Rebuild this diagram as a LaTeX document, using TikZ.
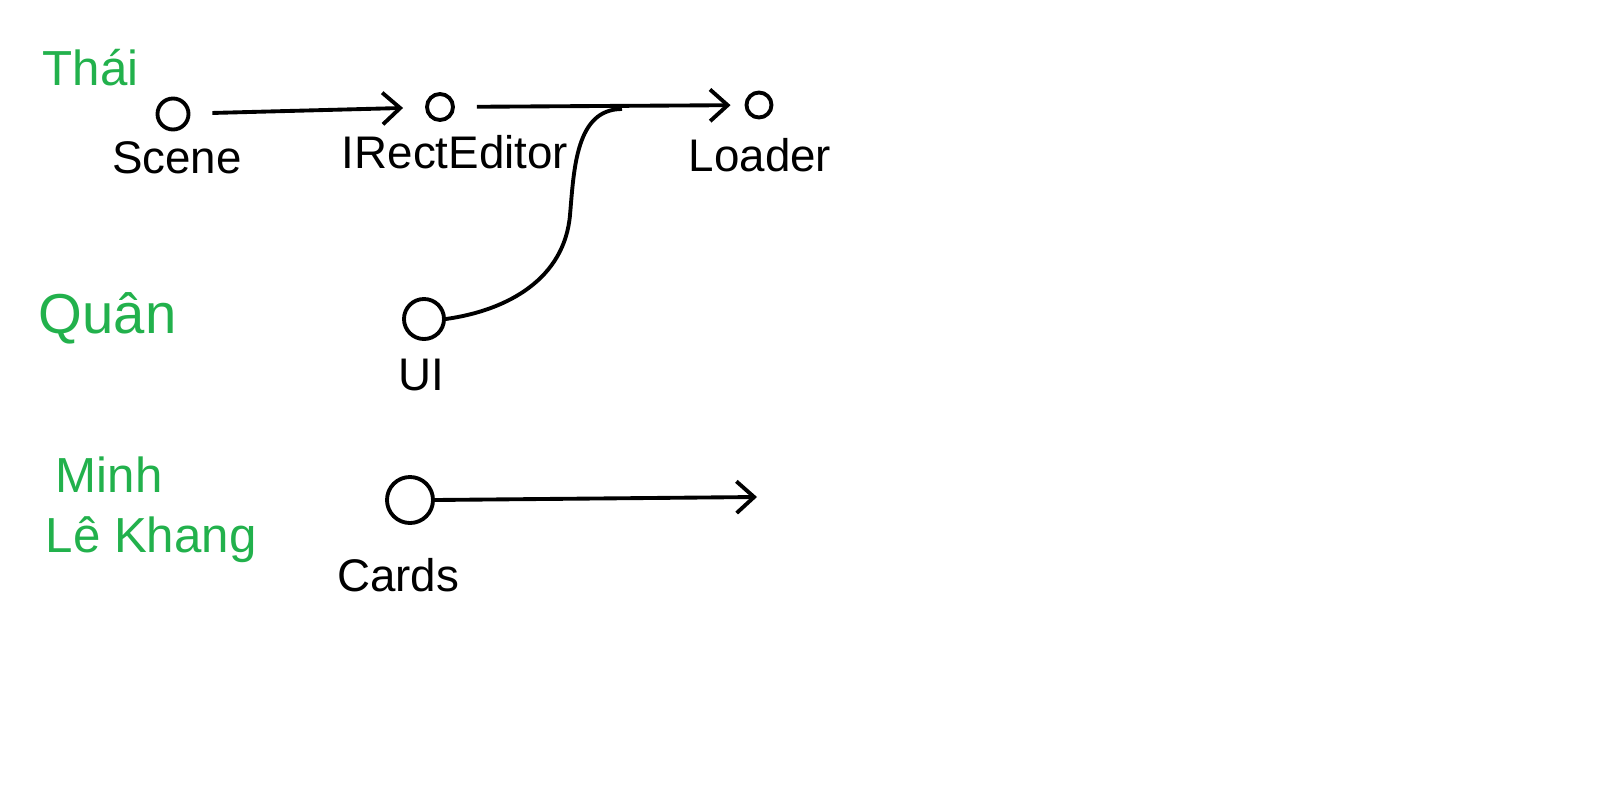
\documentclass[tikz,border=0pt]{standalone}
\usepackage{fontspec}
\setmainfont{Liberation Sans}
\usetikzlibrary{arrows.meta}
\definecolor{paintgreen}{RGB}{34,177,76}

\begin{document}
\begin{tikzpicture}[x=0.01cm,y=-0.01cm]
                \tikzstyle{every node}+=[inner sep=0pt]
                \tikzstyle{obj}=[draw=black, circle, line width=1.1pt]
                \tikzstyle{objlbl}=[font=\fontsize{13}{15}\selectfont, text=black]
                \tikzstyle{who}=[font=\fontsize{14}{16}\selectfont, text=paintgreen, anchor=west]
                \tikzstyle{link}=[draw=black, line width=1.1pt, -{Straight Barb[length=5pt,width=9pt]}]
                \useasboundingbox (0,0) rectangle (1600,800);
                % people
                \node [who] (thai) at (42,68) {Thái};
                \node [who, font=\fontsize{16}{18}\selectfont] (quan) at (38,318) {Quân};
                \node [who] (minh) at (55,475) {Minh};
                \node [who] (khang) at (45,540) {Lê Khang};
                % modules
                \node [obj, minimum size=0.31cm] (scene) at (173,114) {};
                \node [objlbl] (scenelbl) at (177,158) {Scene};
                \node [obj, minimum size=0.26cm] (ireditor) at (440,107) {};
                \node [objlbl] (ireditorlbl) at (455,152) {IRectEditor};
                \node [obj, minimum size=0.25cm] (loader) at (759,105) {};
                \node [objlbl] (loaderlbl) at (760,155) {Loader};
                \node [obj, minimum size=0.4cm] (ui) at (424,319) {};
                \node [objlbl] (uilbl) at (421,375) {UI};
                \node [obj, minimum size=0.46cm] (cards) at (410,500) {};
                \node [objlbl] (cardslbl) at (398,575) {Cards};
                \coordinate (merge) at (622,109);
                \coordinate (cardsend) at (757,497);
                % links
                \draw [link, shorten <=0.22cm, shorten >=0.22cm] (scene) -- (ireditor);
                \draw [link, shorten <=0.22cm, shorten >=0.14cm] (ireditor) -- (loader);
                \draw [draw=black, line width=1.1pt] (ui.east) to[out=8, in=-95] (570,215) to[out=85, in=180] (merge);
                \draw [link] (cards.east) -- (cardsend);
\end{tikzpicture}
\end{document}
